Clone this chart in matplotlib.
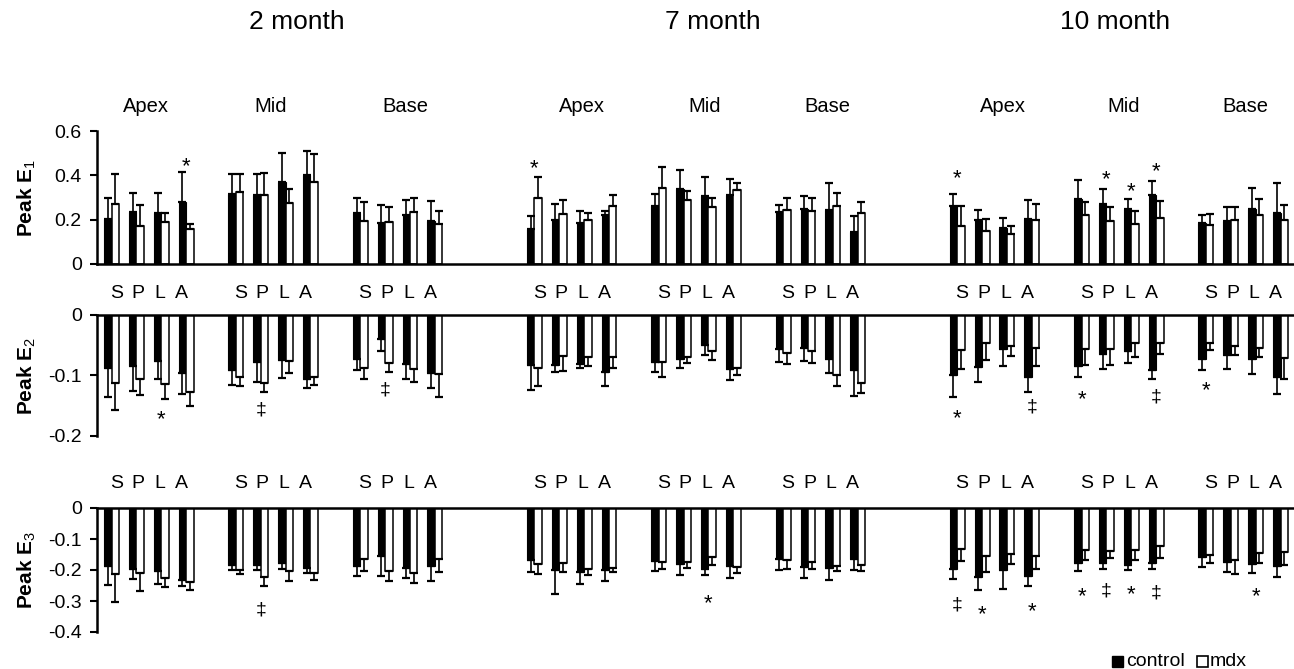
import numpy as np
import matplotlib
matplotlib.use("Agg")
import matplotlib.pyplot as plt
from matplotlib.transforms import blended_transform_factory
from matplotlib.patches import Rectangle
from matplotlib.ticker import FixedLocator, FuncFormatter

plt.rcParams['font.family'] = ['Liberation Sans', 'DejaVu Sans']
plt.rcParams['mathtext.fontset'] = 'custom'
plt.rcParams['mathtext.rm'] = 'Liberation Sans'
plt.rcParams['mathtext.bf'] = 'Liberation Sans:bold'
plt.rcParams['axes.unicode_minus'] = False

months = ["2 month", "7 month", "10 month"]
regions = ["Apex", "Mid", "Base"]
segments = ["S", "P", "L", "A"]

# order: month -> region (Apex, Mid, Base) -> segment (S, P, L, A)
e1_control = [0.205, 0.235, 0.230, 0.280, 0.315, 0.310, 0.370, 0.400, 0.230, 0.185, 0.220, 0.195,
              0.156, 0.198, 0.186, 0.220, 0.263, 0.338, 0.305, 0.311, 0.235, 0.247, 0.245, 0.143,
              0.260, 0.200, 0.162, 0.205, 0.292, 0.271, 0.250, 0.310, 0.183, 0.195, 0.250, 0.232]
e1_control_sd = [0.095, 0.085, 0.090, 0.135, 0.090, 0.095, 0.130, 0.110, 0.070, 0.080, 0.070, 0.090,
                 0.062, 0.074, 0.052, 0.020, 0.051, 0.086, 0.089, 0.072, 0.031, 0.061, 0.122, 0.074,
                 0.057, 0.042, 0.047, 0.082, 0.087, 0.067, 0.043, 0.063, 0.037, 0.061, 0.093, 0.135]
e1_mdx = [0.270, 0.170, 0.190, 0.160, 0.325, 0.310, 0.275, 0.370, 0.195, 0.190, 0.235, 0.180,
          0.300, 0.227, 0.198, 0.260, 0.341, 0.287, 0.259, 0.335, 0.242, 0.239, 0.260, 0.229,
          0.171, 0.147, 0.135, 0.198, 0.220, 0.195, 0.180, 0.209, 0.176, 0.200, 0.223, 0.198]
e1_mdx_sd = [0.135, 0.095, 0.040, 0.020, 0.080, 0.100, 0.065, 0.125, 0.085, 0.065, 0.065, 0.060,
             0.094, 0.060, 0.032, 0.050, 0.095, 0.042, 0.037, 0.029, 0.058, 0.061, 0.062, 0.052,
             0.092, 0.056, 0.035, 0.072, 0.060, 0.064, 0.059, 0.074, 0.048, 0.056, 0.070, 0.068]

e2_control = [-0.088, -0.084, -0.076, -0.096, -0.091, -0.078, -0.074, -0.105, -0.072, -0.039, -0.081, -0.096,
              -0.083, -0.083, -0.081, -0.095, -0.078, -0.072, -0.050, -0.089, -0.056, -0.054, -0.073, -0.091,
              -0.099, -0.086, -0.057, -0.102, -0.084, -0.064, -0.060, -0.091, -0.073, -0.066, -0.073, -0.103]
e2_control_sd = [0.048, 0.042, 0.029, 0.035, 0.024, 0.032, 0.030, 0.015, 0.019, 0.020, 0.024, 0.024,
                 0.041, 0.011, 0.006, 0.022, 0.016, 0.015, 0.016, 0.018, 0.021, 0.022, 0.023, 0.043,
                 0.037, 0.025, 0.028, 0.026, 0.018, 0.025, 0.020, 0.015, 0.018, 0.024, 0.025, 0.028]
e2_mdx = [-0.113, -0.106, -0.114, -0.128, -0.103, -0.112, -0.076, -0.103, -0.087, -0.079, -0.090, -0.098,
          -0.087, -0.067, -0.069, -0.069, -0.077, -0.069, -0.060, -0.087, -0.062, -0.060, -0.100, -0.113,
          -0.058, -0.046, -0.051, -0.055, -0.057, -0.057, -0.047, -0.047, -0.046, -0.052, -0.054, -0.071]
e2_mdx_sd = [0.044, 0.027, 0.025, 0.022, 0.015, 0.015, 0.020, 0.013, 0.019, 0.015, 0.020, 0.037,
             0.031, 0.026, 0.015, 0.018, 0.025, 0.010, 0.014, 0.012, 0.019, 0.020, 0.018, 0.016,
             0.032, 0.028, 0.017, 0.029, 0.025, 0.025, 0.023, 0.017, 0.012, 0.014, 0.016, 0.034]

e3_control = [-0.188, -0.197, -0.204, -0.231, -0.184, -0.183, -0.177, -0.194, -0.186, -0.156, -0.192, -0.186,
              -0.167, -0.199, -0.208, -0.201, -0.172, -0.180, -0.196, -0.188, -0.165, -0.191, -0.194, -0.165,
              -0.196, -0.223, -0.201, -0.218, -0.177, -0.177, -0.183, -0.177, -0.158, -0.175, -0.181, -0.188]
e3_control_sd = [0.059, 0.032, 0.041, 0.022, 0.017, 0.016, 0.020, 0.016, 0.032, 0.062, 0.033, 0.048,
                 0.041, 0.077, 0.037, 0.033, 0.030, 0.036, 0.021, 0.038, 0.034, 0.035, 0.037, 0.034,
                 0.032, 0.043, 0.060, 0.035, 0.027, 0.019, 0.016, 0.019, 0.033, 0.033, 0.029, 0.035]
e3_mdx = [-0.213, -0.210, -0.226, -0.238, -0.199, -0.223, -0.204, -0.210, -0.165, -0.204, -0.210, -0.165,
          -0.180, -0.177, -0.196, -0.195, -0.175, -0.175, -0.158, -0.190, -0.167, -0.175, -0.188, -0.183,
          -0.132, -0.154, -0.147, -0.154, -0.134, -0.140, -0.134, -0.124, -0.153, -0.167, -0.145, -0.142]
e3_mdx_sd = [0.091, 0.057, 0.029, 0.025, 0.014, 0.030, 0.030, 0.021, 0.039, 0.030, 0.032, 0.041,
             0.033, 0.029, 0.020, 0.013, 0.022, 0.020, 0.025, 0.020, 0.030, 0.022, 0.016, 0.019,
             0.040, 0.054, 0.034, 0.043, 0.035, 0.021, 0.035, 0.037, 0.024, 0.045, 0.032, 0.041]

# significance marks: (month index, region index, segment index, symbol, y)
e1_marks = [(0, 0, 3, "*", 0.469), (1, 0, 0, "*", 0.460), (2, 0, 0, "*", 0.417),
            (2, 1, 1, "*", 0.410), (2, 1, 2, "*", 0.356), (2, 1, 3, "*", 0.447)]
e2_marks = [(0, 0, 2, "*", -0.161), (0, 1, 1, "\u2021", -0.157), (0, 2, 1, "\u2021", -0.124),
            (2, 0, 0, "*", -0.160), (2, 0, 3, "\u2021", -0.152), (2, 1, 0, "*", -0.129),
            (2, 1, 3, "\u2021", -0.136), (2, 2, 0, "*", -0.114)]
e3_marks = [(0, 1, 1, "\u2021", -0.328), (1, 1, 2, "*", -0.285), (2, 0, 0, "\u2021", -0.312),
            (2, 0, 1, "*", -0.323), (2, 0, 3, "*", -0.312), (2, 1, 0, "*", -0.263),
            (2, 1, 1, "\u2021", -0.269), (2, 1, 2, "*", -0.258), (2, 1, 3, "\u2021", -0.274),
            (2, 2, 2, "*", -0.263)]


def slot(t, r, s):
    # one empty slot between regions, three between months
    return 17 * t + 5 * r + s


xpos = np.array([slot(t, r, s) for t in range(3) for r in range(3) for s in range(4)], dtype=float)
BW = 0.3

W, H = 1294, 669
fig = plt.figure(figsize=(W / 100, H / 100), dpi=100)


def px_axes(left, top, right, bottom):
    return fig.add_axes([left / W, 1 - bottom / H, (right - left) / W, (bottom - top) / H])


ax1 = px_axes(97, 131, 1293, 264)
ax2 = px_axes(97, 315, 1293, 436)
ax3 = px_axes(97, 508, 1293, 632)

rows = [
    (ax1, e1_control, e1_control_sd, e1_mdx, e1_mdx_sd, e1_marks, (0, 0.6), [0, 0.2, 0.4, 0.6], "1"),
    (ax2, e2_control, e2_control_sd, e2_mdx, e2_mdx_sd, e2_marks, (-0.2, 0), [-0.2, -0.1, 0], "2"),
    (ax3, e3_control, e3_control_sd, e3_mdx, e3_mdx_sd, e3_marks, (-0.4, 0), [-0.4, -0.3, -0.2, -0.1, 0], "3"),
]


def one_sided(vals, sds):
    vals = np.asarray(vals)
    sds = np.asarray(sds)
    lower = np.where(vals < 0, sds, 0.0)
    upper = np.where(vals >= 0, sds, 0.0)
    return [lower, upper]


fmt = FuncFormatter(lambda v, _: "0" if abs(v) < 1e-9 else f"{v:.1f}")

for ax, ctrl, ctrl_sd, mdx, mdx_sd, marks, ylim, ticks, sub in rows:
    ax.bar(xpos - BW / 2, ctrl, width=BW, color="black", edgecolor="black", linewidth=0.8, zorder=2)
    ax.bar(xpos + BW / 2, mdx, width=BW, color="white", edgecolor="black", linewidth=1.1, zorder=2)
    ax.errorbar(xpos - BW / 2, ctrl, yerr=one_sided(ctrl, ctrl_sd), fmt="none", ecolor="black",
                elinewidth=1.2, capsize=3, capthick=1.6, zorder=3)
    ax.errorbar(xpos + BW / 2, mdx, yerr=one_sided(mdx, mdx_sd), fmt="none", ecolor="black",
                elinewidth=1.2, capsize=3, capthick=1.6, zorder=3)
    ax.set_xlim(-0.583, 47.5)
    ax.set_ylim(*ylim)
    ax.yaxis.set_major_locator(FixedLocator(ticks))
    ax.yaxis.set_major_formatter(fmt)
    ax.set_xticks([])
    ax.tick_params(axis="y", direction="out", length=5, width=1.5, labelsize=14, pad=6)
    ax.spines["right"].set_visible(False)
    ax.spines["left"].set_linewidth(1.8)
    if ylim[0] < 0:
        ax.spines["bottom"].set_visible(False)
        ax.spines["top"].set_linewidth(1.8)
    else:
        ax.spines["top"].set_visible(False)
        ax.spines["bottom"].set_linewidth(1.8)
    ax.patch.set_visible(False)

    for t, r, s, sym, y in marks:
        xm = slot(t, r, s)
        dy = -5 if sym == "*" else 0
        ax.annotate(sym, (xm, y), textcoords="offset points", xytext=(0, dy),
                    ha="center", va="center", fontsize=16 if sym == "*" else 14,
                    annotation_clip=False)

    # axis title on the left
    pos = ax.get_position()
    fig.text(27 / W, pos.y0 + pos.height / 2, "Peak E$_{" + sub + "}$", rotation=90,
             fontsize=15, fontweight="bold", ha="center", va="center")

# segment letters above the second and third rows
for ax, yfrac in [(ax2, 1.18), (ax3, 1.20)]:
    tr = ax.get_xaxis_transform()
    for t in range(3):
        for r in range(3):
            c = slot(t, r, 1.5)
            for s, name in enumerate(segments):
                ax.text(c + (s - 1.5) * 0.87, yfrac, name, transform=tr, ha="center", va="center",
                        fontsize=14)

# month headers and region labels
month_px = [297, 713, 1115]
for m, xp in zip(months, month_px):
    fig.text(xp / W, 1 - 22 / H, m, ha="center", va="center", fontsize=19)

region_shift = [-0.1, -0.1, 0.3, 0.4, 0.35, 0.27, 0.32, 0.2, 0.1]
tr_reg = blended_transform_factory(ax1.transData, fig.transFigure)
for t in range(3):
    for r, name in enumerate(regions):
        ax1.text(slot(t, r, 1.5) + region_shift[3 * t + r], 1 - 106 / H, name, transform=tr_reg,
                 ha="center", va="center", fontsize=14.5)

# legend
fig.add_artist(Rectangle((1112 / W, 1 - 667 / H), 11 / W, 11 / H, transform=fig.transFigure,
                         facecolor="black", edgecolor="black", linewidth=1))
fig.text(1126 / W, 1 - 661 / H, "control", ha="left", va="center", fontsize=14)
fig.add_artist(Rectangle((1197 / W, 1 - 667 / H), 11 / W, 11 / H, transform=fig.transFigure,
                         facecolor="white", edgecolor="black", linewidth=1.2))
fig.text(1210 / W, 1 - 661 / H, "mdx", ha="left", va="center", fontsize=14)

fig.savefig("out.png", dpi=100)
